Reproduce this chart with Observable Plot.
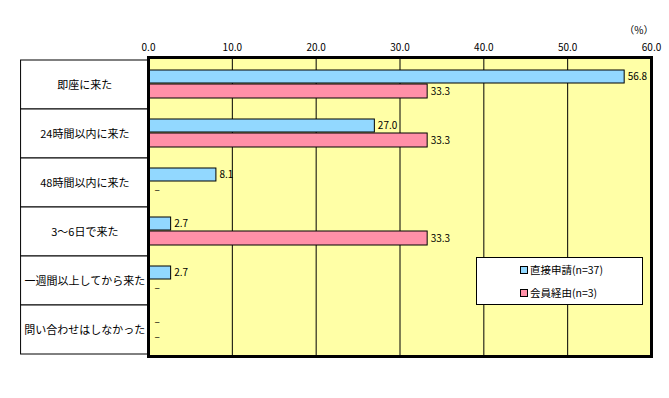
<!DOCTYPE html>
<html><head><meta charset="utf-8">
<script src="https://cdn.jsdelivr.net/npm/d3@7"></script>
<script src="https://cdn.jsdelivr.net/npm/@observablehq/plot@0.6"></script>
<style>
body{margin:0;background:#fff;font-family:"Noto Sans CJK JP",sans-serif;}
#wrap{position:relative;width:669px;height:398px;}
#legend{position:absolute;left:476px;top:257px;width:165px;height:46px;border:1px solid #000;background:#fff;font-size:10.5px;}
#legend .row{position:absolute;left:43px;display:flex;align-items:center;white-space:nowrap;}
#legend .sw{width:6px;height:6px;border:1px solid #000;margin-right:2px;}
</style></head>
<body><div id="wrap"></div>
<script>
const categories = ["即座に来た","24時間以内に来た","48時間以内に来た","3～6日で来た","一週間以上してから来た","問い合わせはしなかった"];
const seriesNames = ["直接申請(n=37)","会員経由(n=3)"];
const directValues = [56.8, 27.0, 8.1, 2.7, 2.7, null];
const memberValues = [33.3, 33.3, null, 33.3, null, null];
const xTicks = [0,10,20,30,40,50,60];
const colors = ["#92D8FF","#FF90A8"];

const fmt = d3.format(".1f");
const direct = categories.map((c,i)=>({cat:c, v:directValues[i]}));
const member = categories.map((c,i)=>({cat:c, v:memberValues[i]}));
const font = "'Noto Sans CJK JP', sans-serif";

const chart = Plot.plot({
  width:669, height:398,
  marginLeft:148, marginRight:18, marginTop:57, marginBottom:42,
  style:{fontFamily:font, fontSize:"10px", color:"#000", background:"transparent"},
  x:{domain:[0,60]},
  y:{domain:categories, padding:0, axis:null},
  marks:[
    Plot.frame({fill:"#FFFFA6"}),
    Plot.ruleX(xTicks.slice(1,-1), {stroke:"#000", strokeWidth:1}),
    Plot.axisX(xTicks, {anchor:"top", tickSize:0, tickPadding:7, tickFormat:fmt, label:null, fontSize:10}),
    Plot.barX(categories, {y:d=>d, x1:()=>-15.2, x2:()=>0, fill:"#fff", stroke:"#000", strokeWidth:1}),
    Plot.text(categories, {y:d=>d, x:()=>-7.6, text:d=>d, fontSize:11, letterSpacing:"0.6px"}),
    Plot.barX(direct.filter(d=>d.v!=null), {y:"cat", x:"v", fill:colors[0], stroke:"#000", strokeWidth:1, insetTop:10, insetBottom:26}),
    Plot.barX(member.filter(d=>d.v!=null), {y:"cat", x:"v", fill:colors[1], stroke:"#000", strokeWidth:1, insetTop:24, insetBottom:11}),
    Plot.text(direct.filter(d=>d.v!=null), {y:"cat", x:"v", text:d=>fmt(d.v), textAnchor:"start", dx:3, dy:-8, fontSize:10}),
    Plot.text(direct.filter(d=>d.v==null), {y:"cat", x:()=>0, text:()=>"–", textAnchor:"start", dx:6, dy:-8, fontSize:10}),
    Plot.text(member.filter(d=>d.v!=null), {y:"cat", x:"v", text:d=>fmt(d.v), textAnchor:"start", dx:3, dy:6.5, fontSize:10}),
    Plot.text(member.filter(d=>d.v==null), {y:"cat", x:()=>0, text:()=>"–", textAnchor:"start", dx:6, dy:6.5, fontSize:10}),
    Plot.frame({stroke:"#000", strokeWidth:3}),
    Plot.text(["（%）"], {frameAnchor:"top-right", text:d=>d, textAnchor:"end", dy:-31, dx:2, fontSize:10})
  ]
});
document.getElementById("wrap").appendChild(chart);
const leg = document.createElement("div");
leg.id = "legend";
seriesNames.forEach((n,i)=>{
  const r = document.createElement("div");
  r.className = "row";
  r.style.top = (i===0? 4 : 27) + "px";
  const sw = document.createElement("span"); sw.className="sw"; sw.style.background=colors[i];
  const t = document.createElement("span"); t.textContent = n;
  r.appendChild(sw); r.appendChild(t); leg.appendChild(r);
});
document.getElementById("wrap").appendChild(leg);
</script></body></html>
